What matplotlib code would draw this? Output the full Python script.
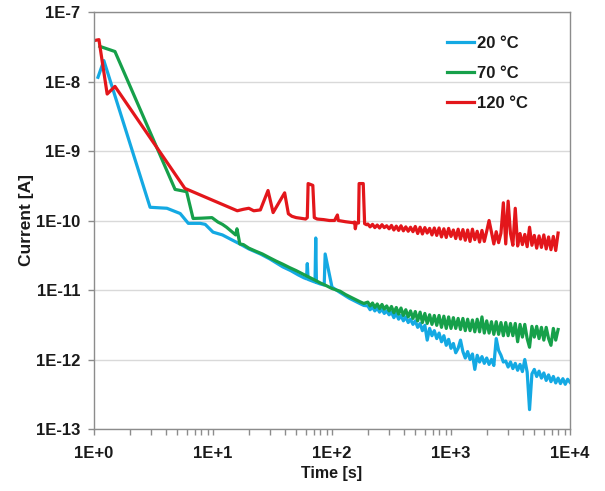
import numpy as np
import matplotlib
matplotlib.use("Agg")
import matplotlib.pyplot as plt
from matplotlib.ticker import FixedLocator, FuncFormatter, LogLocator, NullFormatter

plt.rcParams['font.family'] = ['Liberation Sans', 'DejaVu Sans']
plt.rcParams['font.weight'] = 'bold'

# ---------------------------------------------------------------------------
# data: time [s] and current [A]
# ---------------------------------------------------------------------------

# shared sampling times for the long noisy tail
t_late = [200, 209, 219, 229, 240, 251, 263, 275, 288, 302,
          316, 331, 347, 363, 380, 398, 417, 437, 457, 479,
          501, 525, 550, 575, 603, 631, 661, 692, 724, 759,
          794, 832, 871, 912, 955, 1000, 1047, 1096, 1148, 1202,
          1259, 1318, 1380, 1445, 1514, 1585, 1660, 1738, 1820, 1905,
          1995, 2089, 2188, 2291, 2399, 2512, 2630, 2754, 2884, 3020,
          3162, 3311, 3467, 3631, 3802, 3981, 4169, 4365, 4571, 4786,
          5012, 5248, 5495, 5754, 6026, 6310, 6607, 6918, 7244, 7586,
          7943]

# 20 degC
t_20_early = [1.08, 1.21, 2.96, 4.1, 5.3, 6.2, 7.8, 8.6, 10, 12, 14, 16.8, 20, 25, 30,
              38.6, 45, 52, 58, 61, 62, 63, 68, 72, 73, 74, 80, 86, 87.6, 98, 100,
              117, 140, 171, 185]
i_20_early = [1.15e-8, 2.0e-8, 1.55e-10, 1.5e-10, 1.26e-10, 9.1e-11, 9.1e-11, 8.8e-11,
              6.8e-11, 6.2e-11, 5.4e-11, 4.6e-11, 3.9e-11, 3.3e-11, 2.8e-11,
              2.15e-11, 1.9e-11, 1.65e-11, 1.5e-11, 1.45e-11, 2.4e-11, 1.42e-11,
              1.35e-11, 1.3e-11, 5.6e-11, 1.28e-11, 1.22e-11, 1.18e-11, 3.3e-11,
              1.3e-11, 1.1e-11, 9.2e-12, 7.6e-12, 6.4e-12, 6.0e-12]
i_20_late = [5.9, 5.2, 5.7, 5.0, 5.5, 4.8, 5.3, 4.6, 5.0, 4.4,
             4.8, 4.0, 4.6, 3.8, 4.3, 3.6, 4.1, 3.4, 3.8, 3.2,
             3.6, 2.9, 3.3, 2.6, 3.1, 1.9, 2.8, 2.2, 2.6, 2.0,
             2.4, 1.8, 2.2, 1.6, 1.95, 1.45, 1.7, 1.25, 1.45, 1.9,
             1.3, 1.05, 1.3, 1.0, 1.2, 0.72, 1.15, 0.92, 1.1, 0.88,
             1.05, 0.85, 1.0, 0.82, 2.0, 1.35, 1.15, 0.92, 0.95, 0.78,
             0.92, 0.74, 0.88, 0.7, 0.85, 0.67, 1.0, 0.66, 0.19, 0.62,
             0.72, 0.57, 0.68, 0.54, 0.64, 0.5, 0.6, 0.48, 0.57, 0.46,
             0.54]  # x 1e-12
t_20_tail = [8318, 8710, 9120, 9550, 10000]
i_20_tail = [0.45, 0.53, 0.44, 0.52, 0.47]  # x 1e-12

# 70 degC
t_70_early = [1.12, 1.5, 4.8, 6.0, 6.8, 8.0, 9.8, 11, 12, 13, 14.7, 15.5, 15.9, 16.8,
              18, 20, 23, 26, 30, 34, 38.6, 44, 50, 56, 61.7, 70, 80, 90, 100,
              117, 130, 150, 171, 185]
i_70_early = [3.2e-8, 2.7e-8, 2.8e-10, 2.6e-10, 1.07e-10, 1.08e-10, 1.1e-10, 9.5e-11,
              8.8e-11, 8.0e-11, 6.7e-11, 6.2e-11, 7.6e-11, 4.6e-11,
              4.5e-11, 4.0e-11, 3.6e-11, 3.3e-11, 2.9e-11, 2.6e-11, 2.35e-11, 2.1e-11,
              1.9e-11, 1.72e-11, 1.58e-11, 1.42e-11, 1.26e-11, 1.15e-11, 1.05e-11,
              9.6e-12, 8.6e-12, 7.6e-12, 6.8e-12, 6.4e-12]
i_70_late = [6.7, 5.9, 6.5, 5.6, 6.3, 5.4, 6.2, 5.3, 5.9, 5.0,
             5.8, 4.7, 5.6, 4.5, 5.5, 4.3, 5.2, 4.1, 5.0, 3.9,
             4.9, 3.6, 4.8, 3.4, 4.6, 3.3, 4.4, 3.2, 4.3, 3.1,
             4.3, 2.9, 4.2, 2.8, 4.1, 2.8, 4.0, 2.8, 3.9, 2.7,
             3.9, 2.6, 3.8, 2.6, 3.7, 2.5, 3.8, 2.5, 4.1, 2.4,
             3.6, 2.4, 3.5, 2.3, 3.5, 2.3, 3.4, 2.2, 3.4, 2.2,
             3.3, 2.2, 3.3, 1.8, 3.2, 2.1, 3.2, 2.0, 1.5, 3.0,
             2.1, 3.0, 2.0, 2.9, 1.9, 2.9, 2.0, 1.6, 2.8, 1.9,
             2.7]  # x 1e-12

# 120 degC
t_120_early = [1.02, 1.1, 1.29, 1.5, 5.8, 16, 18, 20, 22, 25, 29, 32, 40, 43, 46, 50,
               54, 60, 62, 63, 66, 69, 71, 75, 85, 95, 105, 111, 113, 130, 150,
               155, 157, 160, 167, 169, 183, 188, 195]
i_120_early = [3.9e-8, 4.0e-8, 6.6e-9, 8.5e-9, 2.9e-10, 1.38e-10, 1.45e-10, 1.5e-10,
               1.38e-10, 1.42e-10, 2.7e-10, 1.3e-10, 2.5e-10, 1.25e-10, 1.15e-10,
               1.1e-10, 1.08e-10, 1.05e-10, 1.1e-10, 3.4e-10, 3.3e-10, 3.2e-10,
               1.1e-10, 1.05e-10, 1.03e-10, 1.0e-10, 1.0e-10, 1.2e-10, 1.0e-10,
               9.6e-11, 9.3e-11, 9.5e-11, 7.6e-11, 9.2e-11, 9.2e-11, 3.4e-10,
               3.4e-10, 9.0e-11, 8.7e-11]
i_120_late = [8.9, 8.1, 8.8, 7.9, 8.6, 7.8, 8.7, 7.9, 8.4, 7.6,
              8.5, 7.3, 8.3, 7.2, 8.4, 7.1, 8.1, 7.0, 8.0, 6.9,
              8.2, 6.5, 8.0, 6.4, 7.9, 6.6, 7.7, 6.2, 7.8, 6.1,
              7.8, 5.8, 7.6, 5.7, 7.7, 5.9, 7.3, 5.5, 7.5, 5.4,
              7.4, 5.2, 7.3, 5.0, 7.5, 5.3, 7.0, 4.9, 7.2, 5.0,
              7.0, 10.0, 6.8, 4.6, 6.9, 4.8, 6.6, 18.0, 4.6, 19.0,
              6.5, 4.4, 15.0, 4.3, 6.5, 4.5, 6.3, 4.2, 8.0, 4.4,
              6.1, 4.0, 6.0, 4.1, 6.2, 3.9, 5.8, 3.8, 5.9, 3.7,
              6.6]  # x 1e-11

labels = ['20 °C', '70 °C', '120 °C']
colors = ['#14A9E3', '#16A04A', '#E3161B']

# ---------------------------------------------------------------------------
t20 = np.concatenate([t_20_early, t_late, t_20_tail])
i20 = np.concatenate([i_20_early, np.array(i_20_late) * 1e-12, np.array(i_20_tail) * 1e-12])
t70 = np.concatenate([t_70_early, t_late])
i70 = np.concatenate([i_70_early, np.array(i_70_late) * 1e-12])
t120 = np.concatenate([t_120_early, t_late])
i120 = np.concatenate([i_120_early, np.array(i_120_late) * 1e-11])

fig = plt.figure(figsize=(6.05, 4.91), dpi=100)
ax = fig.add_axes([94 / 605, 62 / 491, 476 / 605, 417 / 491])

for t, i, lab, c in zip([t20, t70, t120], [i20, i70, i120], labels, colors):
    ax.plot(t, i, color=c, lw=2.3, label=lab, solid_joinstyle='round')

ax.set_xscale('log')
ax.set_yscale('log')
ax.set_xlim(1, 1e4)
ax.set_ylim(1e-13, 1e-7)

ax.yaxis.set_major_locator(FixedLocator([10.0 ** e for e in range(-13, -6)]))
ax.yaxis.set_minor_locator(FixedLocator([]))
ax.yaxis.set_major_formatter(FuncFormatter(lambda v, p: '1E%d' % round(np.log10(v))))
ax.xaxis.set_major_locator(FixedLocator([10.0 ** e for e in range(0, 5)]))
ax.xaxis.set_minor_locator(LogLocator(base=10, subs=np.arange(2, 10), numticks=20))
ax.xaxis.set_minor_formatter(NullFormatter())
ax.xaxis.set_major_formatter(FuncFormatter(lambda v, p: '1E+%d' % round(np.log10(v))))

ax.grid(axis='y', which='major', color='#D9D9D9', lw=1.0)
ax.set_axisbelow(True)
for s in ax.spines.values():
    s.set_color('#8C8C8C')
    s.set_linewidth(1.0)
ax.tick_params(which='both', direction='out', color='#8C8C8C', length=4, width=1,
               labelsize=12, labelcolor='#1A1A1A')
ax.tick_params(axis='y', pad=6)
ax.tick_params(axis='x', which='both', pad=8)

ax.set_xlabel('Time [s]', fontsize=11.5, fontweight='bold', color='#1A1A1A', labelpad=4)
ax.set_ylabel('Current [A]', fontsize=12.5, fontweight='bold', color='#1A1A1A', labelpad=1)

leg = ax.legend(loc='upper left', bbox_to_anchor=(447 / 605, 455 / 491),
                bbox_transform=fig.transFigure, frameon=False, fontsize=12,
                handlelength=1.6, handletextpad=0.2, labelspacing=0.9,
                borderpad=0, borderaxespad=0)
for txt in leg.get_texts():
    txt.set_fontweight('bold')
    txt.set_color('#1A1A1A')

fig.savefig('out.png', dpi=100)
